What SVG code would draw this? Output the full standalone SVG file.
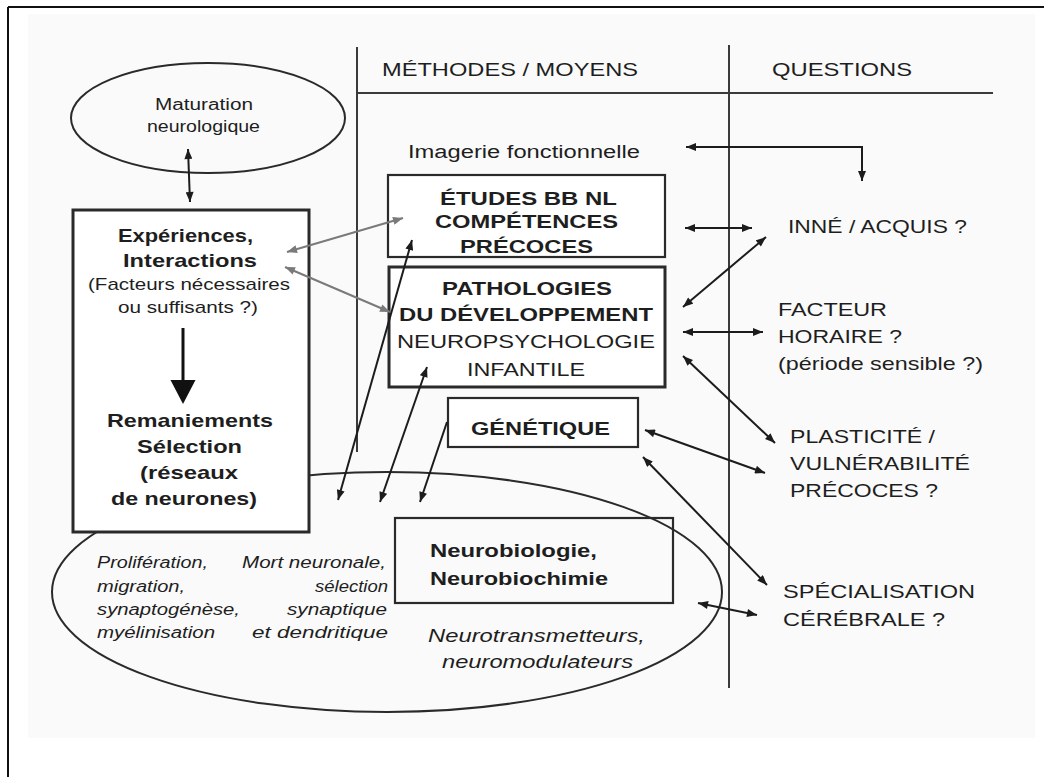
<svg xmlns="http://www.w3.org/2000/svg" width="1044" height="777" viewBox="0 0 1044 777">
<style>
text{font-family:"Liberation Sans",Arial,sans-serif;fill:#1e1e1e;}
.b{font-weight:bold;font-size:19px;}
.r{font-size:19px;}
.s{font-size:16px;}
.i{font-style:italic;font-size:16px;}
.ii{font-style:italic;font-size:18px;}
.box{fill:#fff;stroke:#2a2a2a;stroke-width:2.2;}
.thick{stroke-width:3;}
.c{fill:none;stroke:#1c1c1c;stroke-width:2;marker-start:url(#a);marker-end:url(#a);}
.c1{fill:none;stroke:#1c1c1c;stroke-width:2;marker-end:url(#a);}
.g{fill:none;stroke:#7a7a7a;stroke-width:2;marker-start:url(#ag);marker-end:url(#ag);}
.div{stroke:#3a3a3a;stroke-width:2;fill:none;}
</style>
<defs>
<marker id="a" viewBox="0 0 10 8" refX="10" refY="4" markerWidth="11" markerHeight="8" markerUnits="userSpaceOnUse" orient="auto-start-reverse"><path d="M0,0 L10,4 L0,8 z" fill="#1c1c1c"/></marker>
<marker id="ag" viewBox="0 0 10 8" refX="10" refY="4" markerWidth="11" markerHeight="8" markerUnits="userSpaceOnUse" orient="auto-start-reverse"><path d="M0,0 L10,4 L0,8 z" fill="#7a7a7a"/></marker>
</defs>
<rect x="0" y="0" width="1044" height="777" fill="#fff"/>
<rect x="28" y="14" width="1007" height="724" fill="#fafafa"/>
<g id="frame">
<line x1="8" y1="7" x2="1044" y2="7" stroke="#111" stroke-width="2"/>
<line x1="8" y1="7" x2="8" y2="777" stroke="#111" stroke-width="2"/>
</g>
<g id="dividers">
<line class="div" x1="357" y1="47" x2="357" y2="452"/>
<line class="div" x1="729" y1="45" x2="729" y2="688"/>
<line class="div" x1="357" y1="93" x2="993" y2="93"/>
<text class="r" x="382" y="76" textLength="256" lengthAdjust="spacingAndGlyphs">MÉTHODES / MOYENS</text>
<text class="r" x="772" y="76" textLength="140" lengthAdjust="spacingAndGlyphs">QUESTIONS</text>
</g>
<g id="neuro-ellipse">
<ellipse cx="387" cy="592" rx="335" ry="120" fill="none" stroke="#2a2a2a" stroke-width="2"/>
<text class="i" x="97" y="568" textLength="111" lengthAdjust="spacingAndGlyphs">Prolifération,</text>
<text class="i" x="242" y="568" textLength="144" lengthAdjust="spacingAndGlyphs">Mort neuronale,</text>
<text class="i" x="97" y="592" textLength="88" lengthAdjust="spacingAndGlyphs">migration,</text>
<text class="i" x="315" y="592" textLength="73" lengthAdjust="spacingAndGlyphs">sélection</text>
<text class="i" x="97" y="615" textLength="143" lengthAdjust="spacingAndGlyphs">synaptogénèse,</text>
<text class="i" x="287" y="615" textLength="100" lengthAdjust="spacingAndGlyphs">synaptique</text>
<text class="i" x="97" y="638" textLength="118" lengthAdjust="spacingAndGlyphs">myélinisation</text>
<text class="i" x="252" y="638" textLength="136" lengthAdjust="spacingAndGlyphs">et dendritique</text>
<text class="ii" x="428" y="642" textLength="217" lengthAdjust="spacingAndGlyphs">Neurotransmetteurs,</text>
<text class="ii" x="442" y="668" textLength="191" lengthAdjust="spacingAndGlyphs">neuromodulateurs</text>
</g>
<g id="maturation">
<ellipse cx="208" cy="118" rx="137" ry="55" fill="none" stroke="#2a2a2a" stroke-width="2"/>
<text class="s" x="155" y="110" textLength="98" lengthAdjust="spacingAndGlyphs">Maturation</text>
<text class="s" x="147" y="132" textLength="113" lengthAdjust="spacingAndGlyphs">neurologique</text>
</g>
<g id="experiences">
<rect class="box thick" x="73" y="210" width="236" height="322"/>
<text class="b" x="118" y="242" textLength="135" lengthAdjust="spacingAndGlyphs">Expériences,</text>
<text class="b" x="123" y="267" textLength="134" lengthAdjust="spacingAndGlyphs">Interactions</text>
<text class="r" x="88" y="290" textLength="202" lengthAdjust="spacingAndGlyphs" style="font-size:17px">(Facteurs nécessaires</text>
<text class="r" x="118" y="313" textLength="140" lengthAdjust="spacingAndGlyphs" style="font-size:17px">ou suffisants ?)</text>
<line x1="183" y1="328" x2="183" y2="382" stroke="#111" stroke-width="3"/>
<path d="M170.5,380 L195.5,380 L183,404 z" fill="#111"/>
<text class="b" x="107" y="427" textLength="166" lengthAdjust="spacingAndGlyphs">Remaniements</text>
<text class="b" x="137" y="453" textLength="105" lengthAdjust="spacingAndGlyphs">Sélection</text>
<text class="b" x="140" y="479" textLength="98" lengthAdjust="spacingAndGlyphs">(réseaux</text>
<text class="b" x="111" y="505" textLength="146" lengthAdjust="spacingAndGlyphs">de neurones)</text>
</g>
<g id="imagerie">
<text class="r" x="408" y="158" textLength="232" lengthAdjust="spacingAndGlyphs" style="font-size:18px">Imagerie fonctionnelle</text>
</g>
<g id="etudes">
<rect class="box" x="388" y="175" width="277" height="82"/>
<text class="b" x="440" y="205" textLength="177" lengthAdjust="spacingAndGlyphs">ÉTUDES BB NL</text>
<text class="b" x="435" y="228" textLength="183" lengthAdjust="spacingAndGlyphs">COMPÉTENCES</text>
<text class="b" x="460" y="253" textLength="133" lengthAdjust="spacingAndGlyphs">PRÉCOCES</text>
</g>
<g id="pathologies">
<rect class="box thick" x="389" y="267" width="276" height="120"/>
<text class="b" x="442" y="295" textLength="170" lengthAdjust="spacingAndGlyphs">PATHOLOGIES</text>
<text class="b" x="399" y="321" textLength="254" lengthAdjust="spacingAndGlyphs">DU DÉVELOPPEMENT</text>
<text class="r" x="397" y="348" textLength="258" lengthAdjust="spacingAndGlyphs">NEUROPSYCHOLOGIE</text>
<text class="r" x="467" y="376" textLength="118" lengthAdjust="spacingAndGlyphs">INFANTILE</text>
</g>
<g id="genetique">
<rect class="box" x="448" y="398" width="190" height="49"/>
<text class="b" x="471" y="435" textLength="139" lengthAdjust="spacingAndGlyphs">GÉNÉTIQUE</text>
</g>
<g id="neurobiologie">
<rect x="395" y="518" width="278" height="85" fill="none" stroke="#2a2a2a" stroke-width="2.2"/>
<text class="b" x="430" y="557" textLength="167" lengthAdjust="spacingAndGlyphs">Neurobiologie,</text>
<text class="b" x="430" y="585" textLength="178" lengthAdjust="spacingAndGlyphs">Neurobiochimie</text>
</g>
<g id="q-inne">
<text class="r" x="788" y="233" textLength="179" lengthAdjust="spacingAndGlyphs">INNÉ / ACQUIS ?</text>
</g>
<g id="q-facteur">
<text class="r" x="778" y="316" textLength="109" lengthAdjust="spacingAndGlyphs">FACTEUR</text>
<text class="r" x="778" y="343" textLength="124" lengthAdjust="spacingAndGlyphs">HORAIRE ?</text>
<text class="r" x="778" y="370" textLength="205" lengthAdjust="spacingAndGlyphs">(période sensible ?)</text>
</g>
<g id="q-plasticite">
<text class="r" x="790" y="443" textLength="145" lengthAdjust="spacingAndGlyphs">PLASTICITÉ /</text>
<text class="r" x="790" y="470" textLength="180" lengthAdjust="spacingAndGlyphs">VULNÉRABILITÉ</text>
<text class="r" x="790" y="497" textLength="148" lengthAdjust="spacingAndGlyphs">PRÉCOCES ?</text>
</g>
<g id="q-specialisation">
<text class="r" x="783" y="598" textLength="192" lengthAdjust="spacingAndGlyphs">SPÉCIALISATION</text>
<text class="r" x="783" y="626" textLength="162" lengthAdjust="spacingAndGlyphs">CÉRÉBRALE ?</text>
</g>
<g id="connectors">
<path class="c" d="M188,149 L190,202"/>
<path class="c" d="M862,181 V147 H686"/>
<path class="c" d="M685,228 L752,228"/>
<path class="c" d="M683,307 L766,237"/>
<path class="c" d="M683,332 L763,332"/>
<path class="c" d="M683,356 L775,443"/>
<path class="c" d="M645,430 L765,473"/>
<path class="c" d="M643,457 L767,585"/>
<path class="c" d="M698,603 L757,615"/>
<path class="g" d="M403,218 L287,252"/>
<path class="g" d="M285,267 L390,312"/>
<path class="c" d="M412,240 L338,500"/>
<path class="c" d="M427,367 L380,502"/>
<path class="c1" d="M447,422 L420,502"/>
</g>
</svg>
